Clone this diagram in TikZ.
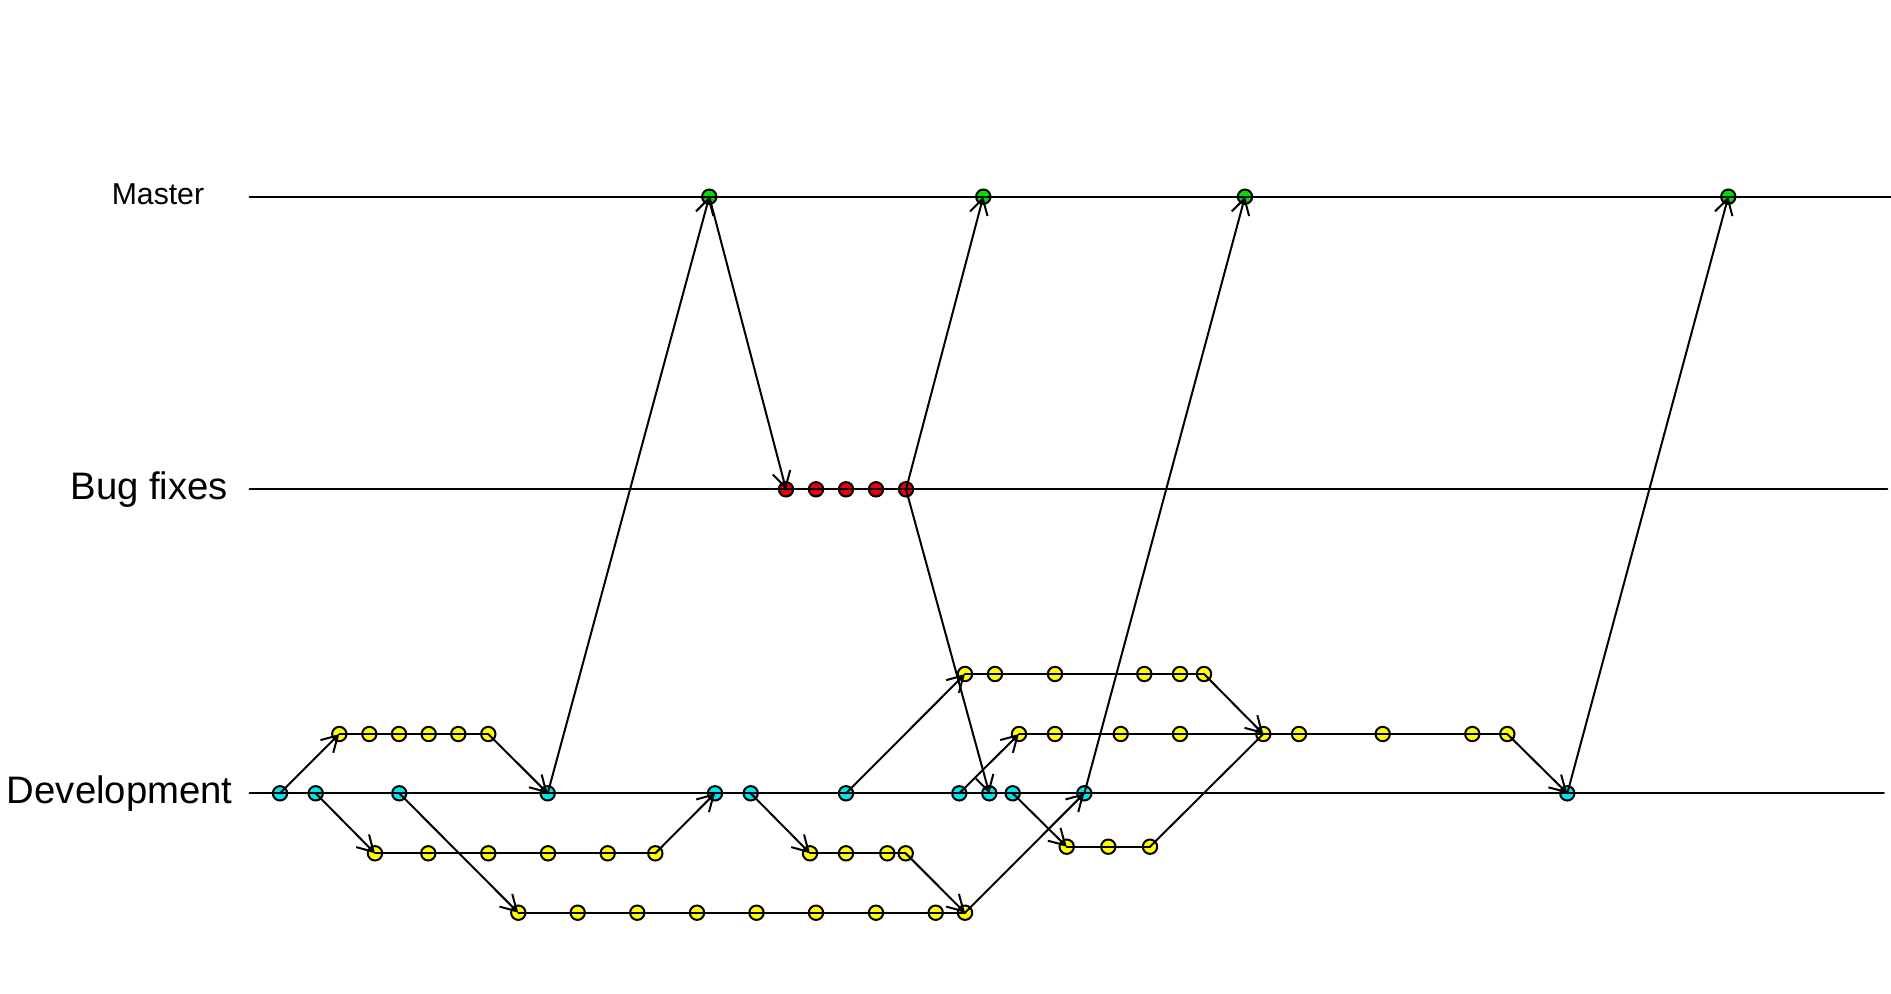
\documentclass[tikz,border=0pt]{standalone}
\usepackage{fontspec}
\setmainfont{Liberation Sans}
\usetikzlibrary{arrows.meta}
\definecolor{cdev}{HTML}{00E5EE}
\definecolor{cfeat}{HTML}{FFFF00}
\definecolor{cbug}{HTML}{EE0000}
\definecolor{cmas}{HTML}{00DD00}
\tikzset{
  commit/.style={circle,draw=black,line width=1pt,minimum size=7.2pt,inner sep=0pt},
  devc/.style={commit,fill=cdev},
  featc/.style={commit,fill=cfeat},
  bugc/.style={commit,fill=cbug},
  masc/.style={commit,fill=cmas},
  conn/.style={line width=1pt,line cap=round},
  arr/.style={conn,-{Straight Barb[length=7.8pt,width=9pt,line width=1pt]}},
  lbl/.style={anchor=base east,inner sep=0pt},
}
\begin{document}
\begin{tikzpicture}[x=0.5pt,y=-0.5pt]
\useasboundingbox (0,0) rectangle (1891,993);
% labels
\node[lbl,font=\fontsize{15.1pt}{18pt}\selectfont] (tm) at (204.5,204) {Master};
\node[lbl,font=\fontsize{19.15pt}{23pt}\selectfont] (tb) at (228.5,499.3) {Bug fixes};
\node[lbl,font=\fontsize{19.15pt}{23pt}\selectfont] (td) at (233,803.3) {Development};
% line ends
\coordinate (mL) at (249.6,196.7); \coordinate (mR) at (1891,196.7);
\coordinate (bL) at (249.6,489.3); \coordinate (bR) at (1887.4,489.3);
\coordinate (dL) at (249.6,793.3); \coordinate (dR) at (1883.8,793.3);
% commits: master
\foreach \x [count=\i] in {709.3,983.3,1245,1728.3} \node[masc] (m\i) at (\x,196.7) {};
% bug fixes
\foreach \x [count=\i] in {786,816,846,876,906} \node[bugc] (b\i) at (\x,489.3) {};
% development
\foreach \x [count=\i] in {280,315.7,399.3,547.7,715,750.7,846,959.3,989.3,1012.7,1084.3,1567.3} \node[devc] (d\i) at (\x,793.3) {};
% feature rows
\foreach \x [count=\i] in {339.3,369.3,399,428.7,458.3,488.3} \node[featc] (a\i) at (\x,734) {};
\foreach \x [count=\i] in {375,428.3,488.3,548,607.7,655.3} \node[featc] (c\i) at (\x,853.3) {};
\foreach \x [count=\i] in {518.3,577.7,637.3,697,756.5,816,876,935.7,965} \node[featc] (e\i) at (\x,912.7) {};
\foreach \x [count=\i] in {810,846,887.3,905.7} \node[featc] (f\i) at (\x,853.3) {};
\foreach \x [count=\i] in {965,995,1055,1144.3,1180,1204} \node[featc] (g\i) at (\x,674) {};
\foreach \x [count=\i] in {1019,1055,1120.7,1180,1263.3,1299,1382.7,1472.3,1507.3} \node[featc] (h\i) at (\x,734) {};
\foreach \x [count=\i] in {1066.7,1108.3,1150} \node[featc] (k\i) at (\x,846.7) {};
% main lines
\draw[conn] (mL) -- (mR);
\draw[conn] (bL) -- (bR);
\draw[conn] (dL) -- (dR);
% row lines
\draw[conn] (a1.center) -- (a6.center);
\draw[conn] (c1.center) -- (c6.center);
\draw[conn] (e1.center) -- (e9.center);
\draw[conn] (f1.center) -- (f4.center);
\draw[conn] (g1.center) -- (g6.center);
\draw[conn] (h1.center) -- (h9.center);
\draw[conn] (k1.center) -- (k3.center);
\draw[conn] (k3.center) -- (h5.center);
% arrows
\draw[arr] (d1.center) -- (a1.center);
\draw[arr] (a6.center) -- (d4.center);
\draw[arr] (d2.center) -- (c1.center);
\draw[arr] (c6.center) -- (d5.center);
\draw[arr] (d3.center) -- (e1.center);
\draw[arr] (e9.center) -- (d11.center);
\draw[arr] (d4.center) -- (m1.center);
\draw[arr] (m1.center) -- (b1.center);
\draw[arr] (b5.center) -- (m2.center);
\draw[arr] (b5.center) -- (d9.center);
\draw[arr] (d6.center) -- (f1.center);
\draw[arr] (f4.center) -- (e9.center);
\draw[arr] (d7.center) -- (g1.center);
\draw[arr] (g6.center) -- (h5.center);
\draw[arr] (d8.center) -- (h1.center);
\draw[arr] (h9.center) -- (d12.center);
\draw[arr] (d10.center) -- (k1.center);
\draw[arr] (d11.center) -- (m3.center);
\draw[arr] (d12.center) -- (m4.center);
\end{tikzpicture}
\end{document}
